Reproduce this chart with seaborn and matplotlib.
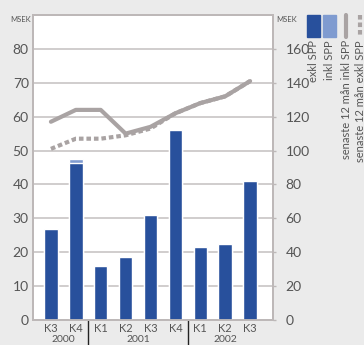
import matplotlib
matplotlib.use("Agg")
import matplotlib.pyplot as plt
import seaborn as sns
import pandas as pd
from matplotlib.patches import Rectangle
from matplotlib.lines import Line2D

# ---- data ----
quarters = ["K3", "K4", "K1", "K2", "K3", "K4", "K1", "K2", "K3"]
years = ["2000", "2000", "2001", "2001", "2001", "2001", "2002", "2002", "2002"]
exkl_spp = [27, 46.3, 16, 18.5, 31, 56, 21.5, 22.5, 41]
inkl_spp = [27, 47.6, 16, 18.5, 31, 56, 21.5, 22.5, 41]
r12_inkl = [117, 124, 124, 110, 114, 122, 128, 132, 141]
r12_exkl = [101, 107, 107, 109, 113, 122, 128, 132, 141]
year_labels = ["2000", "2001", "2002"]
legend_labels = ["exkl SPP", "inkl SPP", "senaste 12 mån inkl SPP", "senaste 12 mån exkl SPP"]

keys = [f"{y} {q}" for y, q in zip(years, quarters)]
df = pd.DataFrame({"key": keys, "exkl": exkl_spp, "inkl": inkl_spp,
                   "pos": list(range(len(keys))), "r_inkl": r12_inkl, "r_exkl": r12_exkl})

DARK = "#28509c"
LIGHT = "#7f9bd0"
GRAY = "#a9a3a3"
TXT = "#555555"
BG = "#ebebeb"

sns.set_style("white")
plt.rcParams["font.family"] = ["Lato", "DejaVu Sans"]

fig = plt.figure(figsize=(3.64, 3.45), dpi=100, facecolor=BG)
ax = fig.add_axes([33/364, 1-320/345, 240/364, 305/345])
ax.set_facecolor("white")

sns.barplot(data=df, x="key", y="inkl", color=LIGHT, width=0.54, saturation=1, ax=ax, zorder=2)
sns.barplot(data=df, x="key", y="exkl", color=DARK, width=0.54, saturation=1, ax=ax, zorder=3)

ax.set_xlim(-0.72, 8.92)
ax.set_ylim(0, 90)
ax.set_yticks(range(0, 90, 10))
ax.set_xticks(range(len(quarters)))
ax.set_xticklabels(quarters)
ax.set_xlabel("")
ax.set_ylabel("")
ax.grid(axis="y", color="#cdc9c9", lw=1.3, zorder=0)
ax.set_axisbelow(True)
for s in ax.spines.values():
    s.set_color("#bdb8b8")
    s.set_linewidth(1.3)
ax.tick_params(axis="y", labelsize=10, colors=TXT, length=0, pad=3)
ax.tick_params(axis="x", labelsize=8, colors=TXT, length=0, pad=2)

ax2 = ax.twinx()
sns.lineplot(data=df, x="pos", y="r_exkl", color=GRAY, lw=3, ax=ax2, zorder=2)
ax2.lines[-1].set_linestyle((0, (1.1, 0.7)))
sns.lineplot(data=df, x="pos", y="r_inkl", color=GRAY, lw=3, ax=ax2, zorder=3)
ax2.set_ylim(0, 180)
ax2.set_yticks(range(0, 180, 20))
ax2.set_xlim(-0.72, 8.92)
ax2.set_ylabel("")
ax2.set_xlabel("")
for s in ax2.spines.values():
    s.set_color("#bdb8b8")
    s.set_linewidth(1.3)
ax2.tick_params(axis="y", labelsize=10, colors=TXT, length=2, width=1, pad=7, color="#bdb8b8")

# year labels and separators
xt = ax.get_xaxis_transform()
groups = {}
for i, y in enumerate(years):
    groups.setdefault(y, []).append(i)
for yl in year_labels:
    idx = groups[yl]
    ax.text(sum(idx)/len(idx), -0.049, yl, transform=xt, ha="center", va="top",
            fontsize=7.5, color=TXT, clip_on=False)
for i in range(1, len(years)):
    if years[i] != years[i-1]:
        ax.add_line(Line2D([i-0.5, i-0.5], [0, -0.1], transform=xt, color="#222222",
                           lw=1, clip_on=False))

# MSEK labels
fig.text(10/364, 1-19/345, "MSEK", fontsize=5.5, color=TXT, ha="left", va="center")
fig.text(276/364, 1-19/345, "MSEK", fontsize=5.5, color=TXT, ha="left", va="center")

# legend
W, H = 364, 345
def fx(x): return x / W
def fy(y): return 1 - y / H
fig.patches.append(Rectangle((fx(307), fy(37)), fx(13), 22/H, color=DARK, transform=fig.transFigure))
fig.patches.append(Rectangle((fx(323), fy(37)), fx(13), 22/H, color=LIGHT, transform=fig.transFigure))
fig.lines.append(Line2D([fx(346), fx(346)], [fy(15), fy(37)], color=GRAY, lw=3, transform=fig.transFigure))
fig.lines.append(Line2D([fx(359.5), fx(359.5)], [fy(15), fy(37)], color=GRAY, lw=3,
                        linestyle=(0, (1.1, 0.7)), transform=fig.transFigure))
for xc, lab in zip([313.5, 329.5, 346, 360], legend_labels):
    fig.text(fx(xc), fy(40), lab, rotation=90, ha="center", va="top", fontsize=8, color=TXT)

fig.savefig("out.png", dpi=100, facecolor=BG)
